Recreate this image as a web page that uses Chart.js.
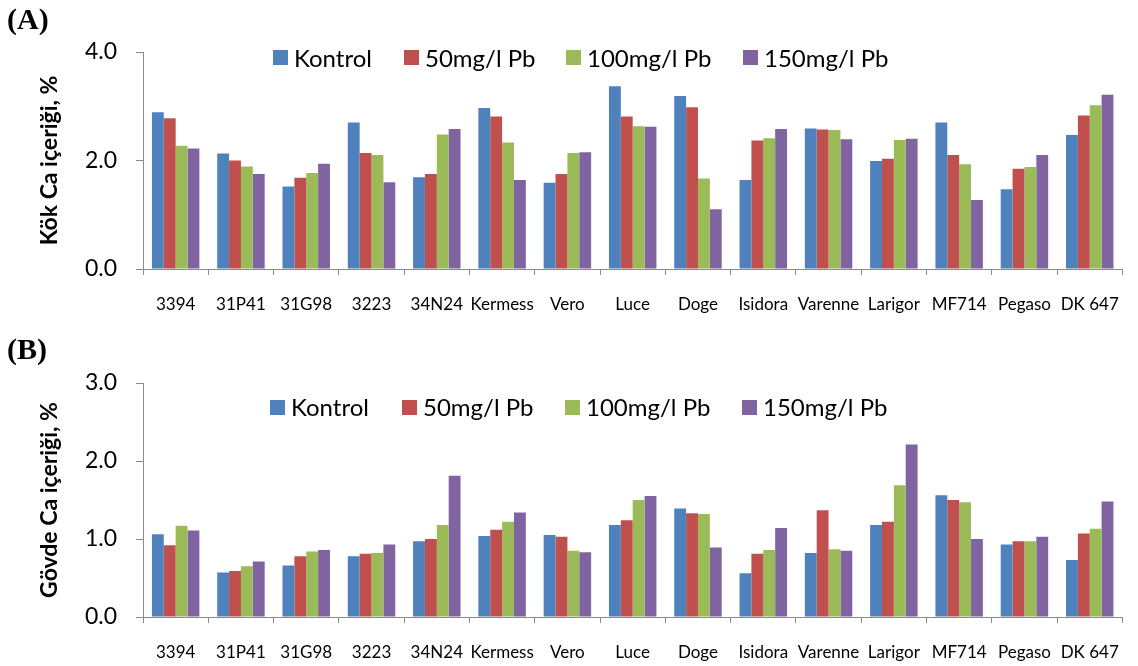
<!DOCTYPE html>
<html><head><meta charset="utf-8">
<script src="https://cdn.jsdelivr.net/npm/chart.js@4"></script>
<style>
html,body{margin:0;padding:0;background:#fff;}
#wrap{position:relative;width:1138px;height:666px;overflow:hidden;background:#fff;}
canvas{position:absolute;left:0;}
.panel{position:absolute;left:7px;font:bold 30px "Liberation Serif";line-height:32px;color:#000;}
.lg{position:absolute;font:24px Lato;color:#000;line-height:30px;height:30px;white-space:nowrap;}
.bx{position:absolute;width:15px;height:15px;}
</style></head><body>
<div id="wrap">
<canvas id="c1" width="1138" height="330" style="top:0"></canvas>
<canvas id="c2" width="1138" height="336" style="top:330px"></canvas>
<div class="panel" style="top:3px">(A)</div>
<div class="panel" style="top:333px">(B)</div>
</div>
<script>
const categories = ['3394','31P41','31G98','3223','34N24','Kermess','Vero','Luce','Doge','Isidora','Varenne','Larigor','MF714','Pegaso','DK 647'];
const seriesNames = ['Kontrol','50mg/l Pb','100mg/l Pb','150mg/l Pb'];
const seriesColors = ['#4F81BD','#C0504D','#9BBB59','#8064A2'];

// (A) Kök Ca içeriği, %
const rootKontrol = [2.89, 2.13, 1.52, 2.70, 1.69, 2.97, 1.59, 3.37, 3.19, 1.64, 2.59, 1.99, 2.70, 1.47, 2.47];
const root50      = [2.78, 2.00, 1.68, 2.14, 1.75, 2.81, 1.75, 2.81, 2.98, 2.37, 2.57, 2.03, 2.10, 1.85, 2.83];
const root100     = [2.27, 1.89, 1.77, 2.10, 2.48, 2.33, 2.14, 2.63, 1.67, 2.41, 2.56, 2.38, 1.93, 1.88, 3.02];
const root150     = [2.22, 1.75, 1.94, 1.60, 2.58, 1.64, 2.15, 2.62, 1.10, 2.58, 2.39, 2.40, 1.27, 2.10, 3.21];

// (B) Gövde Ca içeriği, %
const stemKontrol = [1.06, 0.57, 0.66, 0.78, 0.97, 1.04, 1.05, 1.18, 1.39, 0.56, 0.82, 1.18, 1.56, 0.93, 0.73];
const stem50      = [0.92, 0.59, 0.78, 0.81, 1.00, 1.12, 1.03, 1.24, 1.33, 0.81, 1.37, 1.22, 1.50, 0.97, 1.07];
const stem100     = [1.17, 0.65, 0.84, 0.82, 1.18, 1.22, 0.85, 1.50, 1.32, 0.86, 0.87, 1.69, 1.47, 0.97, 1.13];
const stem150     = [1.11, 0.71, 0.86, 0.93, 1.81, 1.34, 0.83, 1.55, 0.89, 1.14, 0.85, 2.21, 1.00, 1.03, 1.48];

const rootTicks = [0, 2, 4];
const stemTicks = [0, 1, 2, 3];

const AXIS = '#8a8a8a';

function makeChart(id, seriesData, ticks, yTitle, padTop, xHeight) {
  const yMax = ticks[ticks.length - 1];
  const step = ticks[1] - ticks[0];
  return new Chart(document.getElementById(id), {
    type: 'bar',
    data: {
      labels: categories,
      datasets: seriesData.map((d, i) => ({
        label: seriesNames[i],
        data: d,
        backgroundColor: seriesColors[i],
        borderWidth: 0,
        categoryPercentage: 0.727,
        barPercentage: 1.0
      }))
    },
    options: {
      responsive: false,
      animation: false,
      devicePixelRatio: 1,
      layout: { padding: { top: padTop, right: 6, left: 0, bottom: 0 } },
      plugins: { legend: { display: false }, tooltip: { enabled: false }, title: { display: false } },
      scales: {
        x: {
          offset: true,
          grid: { offset: true, drawOnChartArea: false, drawTicks: true, tickLength: 6, color: AXIS, lineWidth: 1 },
          border: { color: AXIS, width: 1 },
          ticks: { font: { family: 'Lato', size: 17 }, color: '#000', padding: 19, maxRotation: 0, autoSkip: false },
          afterFit: s => { s.height = xHeight; }
        },
        y: {
          min: 0, max: yMax,
          ticks: { stepSize: step, callback: v => Number(v).toFixed(1), font: { family: 'Lato', size: 23 }, color: '#000', padding: 19 },
          grid: { drawOnChartArea: false, drawTicks: true, tickLength: 7, color: AXIS, lineWidth: 1 },
          border: { color: AXIS, width: 1 },
          title: { display: true, text: yTitle, font: { family: 'Lato', size: 23, weight: 'bold' }, color: '#000', padding: { top: 36, bottom: 0 } },
          afterFit: s => { s.width = 143; }
        }
      }
    }
  });
}

makeChart('c1', [rootKontrol, root50, root100, root150], rootTicks, 'Kök Ca içeriği, %', 52, 61);
makeChart('c2', [stemKontrol, stem50, stem100, stem150], stemTicks, 'Gövde Ca içeriği, %', 53, 49);

function makeLegend(xs, cy) {
  const wrap = document.getElementById('wrap');
  seriesNames.forEach((name, i) => {
    const b = document.createElement('div');
    b.className = 'bx';
    b.style.left = xs[i] + 'px';
    b.style.top = (cy - 7.5) + 'px';
    b.style.background = seriesColors[i];
    wrap.appendChild(b);
    const t = document.createElement('div');
    t.className = 'lg';
    t.style.left = (xs[i] + 21) + 'px';
    t.style.top = (cy - 15) + 'px';
    t.textContent = name;
    wrap.appendChild(t);
  });
}
makeLegend([273, 404, 566, 743], 57.5);
makeLegend([270, 402, 565, 742], 407);
</script>
</body></html>
